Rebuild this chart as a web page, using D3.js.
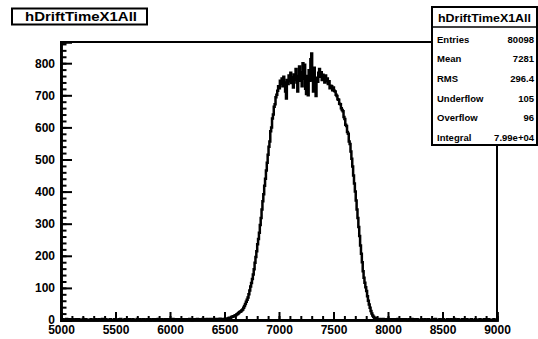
<!DOCTYPE html>
<meta charset="utf-8">
<script src="https://d3js.org/d3.v7.min.js"></script>
<style>
  body { margin: 0; background: #fff; }
  text { font-family: "Liberation Sans", Arial, sans-serif; font-weight: bold; fill: #000; }
</style>
<body>
<svg width="538" height="339"></svg>
<script>
var W = 538, H = 339;
var binWidth = 8;

// counts per 8-unit bin, 5000 .. 6496
var bgLow = [
  1,0,2,1,0,1,3,1,0,2, 1,1,0,2,1,0,1,2,0,1,
  2,1,0,1,1,3,0,1,2,1, 0,1,1,0,2,1,1,0,1,2,
  1,0,1,2,1,1,0,3,1,0, 1,2,1,0,1,1,2,0,1,1,
  0,2,1,1,0,1,2,1,3,0, 1,1,0,2,1,0,1,1,2,1,
  1,0,2,1,1,0,1,3,1,1, 2,0,1,1,2,1,0,1,2,1,
  1,2,0,1,1,2,1,0,2,1, 1,3,1,0,1,2,1,1,0,2,
  1,1,2,0,1,2,1,1,3,1, 0,2,1,1,2,1,0,1,2,2,
  1,0,2,1,2,1,1,3,1,2, 0,1,2,1,2,1,3,1,1,2,
  2,1,3,1,2,2,1,3,2,1, 2,3,2,1,2,3,2,2,3,2,
  3,2,4,2,3,3,2
];
// 6496 .. 7904
var peak = [
  3,4,3,5,4,6,7,6,9,10,
  12,11,14,15,17,19,21,24,26,27,
  30,33,38,44,50,57,63,70,80,92,
  104,115,128,142,158,178,196,214,236,252,
  272,296,318,344,370,392,418,440,466,490,
  515,540,556,588,600,628,640,664,672,694,
  702,714,728,
  722,745,736,752,728,758,740,712,690,748,
  735,762,744,770,738,756,724,765,748,782,
  740,712,760,790,745,772,728,800,752,795,
  720,704,760,700,778,745,812,830,748,712,
  786,728,698,755,742,770,782,758,772,748,
  764,756,740,762,746,752,735,744,722,730,
  728,716,
  724,714,712,702,698,688,686,674,672,660,
  654,650,632,626,608,604,586,580,556,548,
  525,502,478,450,425,400,372,344,318,290,
  262,232,206,180,152,132,116,102,90,74,
  60,48,38,28,20,14,10,7,6,4,3
];
// 7904 .. 9000
var bgHigh = [
  3,2,3,2,1,2,3,2,1,2, 2,1,3,2,1,1,2,1,2,1,
  1,2,1,3,1,1,2,0,1,2, 1,1,2,1,0,1,2,1,1,3,
  1,0,2,1,1,2,1,0,1,1, 2,1,0,1,2,1,1,0,2,1,
  1,1,0,2,1,1,3,1,0,1, 1,2,0,1,1,2,1,0,1,1,
  2,0,1,1,2,1,0,1,3,1, 1,0,2,1,1,0,1,2,1,0,
  1,1,2,0,1,1,0,2,1,1, 0,1,2,1,0,1,1,2,0,1,
  1,0,2,1,1,0,1,2,1,0, 1,1,0,2,1,0,1
];

var xTicks = [5000, 5500, 6000, 6500, 7000, 7500, 8000, 8500, 9000];
var yTicks = [0, 100, 200, 300, 400, 500, 600, 700, 800];

var histName = "hDriftTimeX1All";
var statLabels = ["Entries", "Mean", "RMS", "Underflow", "Overflow", "Integral"];
var statValues = ["80098", "7281", "296.4", "105", "96", "7.99e+04"];

var svg = d3.select("svg");
svg.append("rect").attr("width", W).attr("height", H).attr("fill", "#fff");

var x = d3.scaleLinear().domain([5000, 9000]).range([61, 497]);
var y = d3.scaleLinear().domain([0, 866]).range([320, 42]);

// frame
svg.append("rect")
  .attr("x", x(5000)).attr("y", y(866))
  .attr("width", x(9000) - x(5000)).attr("height", y(0) - y(866))
  .attr("fill", "none").attr("stroke", "#000").attr("stroke-width", 2);

// histogram bins
var pts = [];
function addBins(arr, start) {
  arr.forEach(function(v, i) { pts.push([start + i * binWidth, v]); });
}
addBins(bgLow, 5000);
addBins(peak, 6496);
addBins(bgHigh, 7904);
pts.push([9000, pts[pts.length - 1][1]]);

var line = d3.line()
  .x(function(d) { return x(d[0]); })
  .y(function(d) { return y(d[1]); })
  .curve(d3.curveStepAfter);

svg.append("path").datum(pts)
  .attr("d", line)
  .attr("fill", "none").attr("stroke", "#000").attr("stroke-width", 2.5)
  .attr("stroke-linejoin", "miter");

// axes
function styleAxis(g) {
  g.select(".domain").attr("stroke-width", 2.5);
  g.selectAll(".tick line").attr("stroke-width", 2);
  g.selectAll("text").attr("font-size", 12).attr("font-weight", "bold")
    .attr("font-family", "Liberation Sans, Arial, sans-serif");
}

svg.append("g").attr("transform", "translate(0," + y(0) + ")")
  .call(d3.axisBottom(x).tickValues(d3.range(5000, 9001, 100)).tickSize(-4).tickFormat(""))
  .call(styleAxis);
svg.append("g").attr("transform", "translate(0," + y(0) + ")")
  .call(d3.axisBottom(x).tickValues(xTicks).tickSize(-8).tickPadding(5).tickFormat(d3.format("d")))
  .call(styleAxis);

svg.append("g").attr("transform", "translate(" + x(5000) + ",0)")
  .call(d3.axisLeft(y).tickValues(d3.range(0, 861, 20)).tickSize(-5.5).tickFormat(""))
  .call(styleAxis);
svg.append("g").attr("transform", "translate(" + x(5000) + ",0)")
  .call(d3.axisLeft(y).tickValues(yTicks).tickSize(-11).tickPadding(6).tickFormat(d3.format("d")))
  .call(styleAxis);

svg.selectAll(".domain").attr("stroke-width", 2.5);

// title box
svg.append("rect").attr("x", 12).attr("y", 8.5).attr("width", 135).attr("height", 16)
  .attr("fill", "#fff").attr("stroke", "#000").attr("stroke-width", 2);
svg.append("text").attr("x", 25).attr("y", 21).attr("font-size", 12.5)
  .attr("textLength", 112).attr("lengthAdjust", "spacingAndGlyphs")
  .text(histName);

// stats box
var sx = 432, sy = 7, sw = 105, sh = 138, rowH = 19.7;
svg.append("rect").attr("x", sx).attr("y", sy).attr("width", sw).attr("height", sh)
  .attr("fill", "#fff").attr("stroke", "#000").attr("stroke-width", 2);
svg.append("line").attr("x1", sx).attr("x2", sx + sw).attr("y1", 27).attr("y2", 27)
  .attr("stroke", "#000").attr("stroke-width", 1.5);
svg.append("text").attr("x", 438).attr("y", 21.5).attr("font-size", 11)
  .attr("textLength", 93).attr("lengthAdjust", "spacingAndGlyphs")
  .text(histName);

var rows = svg.append("g").selectAll("g").data(statLabels).enter().append("g");
rows.append("text")
  .attr("x", 437)
  .attr("y", function(d, i) { return 42.5 + i * rowH; })
  .attr("font-size", 9.5)
  .text(function(d) { return d; });
rows.append("text")
  .attr("x", 534)
  .attr("y", function(d, i) { return 42.5 + i * rowH; })
  .attr("font-size", 9.5)
  .attr("text-anchor", "end")
  .text(function(d, i) { return statValues[i]; });
</script>
